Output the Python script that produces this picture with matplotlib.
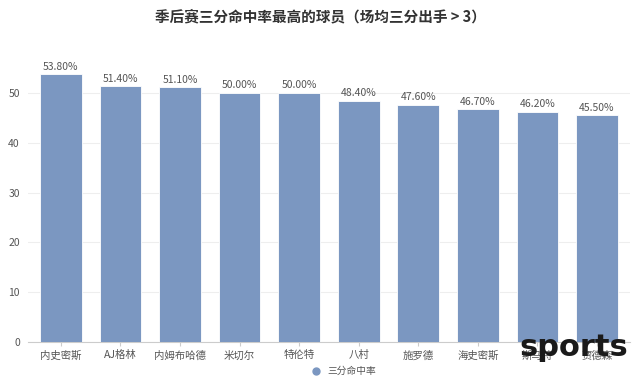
import matplotlib
matplotlib.use("Agg")
import matplotlib.pyplot as plt
from matplotlib.lines import Line2D

plt.rcParams['font.family'] = ['Noto Sans CJK SC', 'DejaVu Sans']

# data
players = ['内史密斯', 'AJ格林', '内姆布哈德', '米切尔', '特伦特', '八村', '施罗德', '海史密斯', '斯马特', '贾德森']
pct = [53.8, 51.4, 51.1, 50.0, 50.0, 48.4, 47.6, 46.7, 46.2, 45.5]
yticks = [0, 10, 20, 30, 40, 50]

bar_color = '#7b97c1'
text_gray = '#555555'

fig = plt.figure(figsize=(6.4, 3.8), dpi=100)
ax = fig.add_axes([0.044, 0.1, 0.94, 0.734])

x = range(len(players))
ax.bar(x, pct, width=0.7, color=bar_color, edgecolor='white', linewidth=0.6, zorder=3)
for xi, v in zip(x, pct):
    ax.text(xi, v + 0.5, '%.2f%%' % v, ha='center', va='bottom', fontsize=7.5, color=text_gray)

ax.set_ylim(0, 56)
ax.set_xlim(-0.55, len(players) - 0.45)
ax.set_yticks(yticks)
ax.set_xticks(list(x))
ax.set_xticklabels(players)
ax.tick_params(axis='y', length=0, labelsize=7.5, colors=text_gray, pad=6)
ax.tick_params(axis='x', length=3, color='#cccccc', labelsize=7.5, colors=text_gray, pad=3)
ax.grid(axis='y', color='#eeeeee', linewidth=0.8, zorder=0)
for s in ['top', 'right', 'left']:
    ax.spines[s].set_visible(False)
ax.spines['bottom'].set_color('#cccccc')

fig.suptitle('季后赛三分命中率最高的球员（场均三分出手 > 3）', x=0.5, y=0.978,
             fontsize=10.5, fontweight='bold', color='#333333')

handle = Line2D([], [], marker='o', linestyle='none', markersize=5,
                markerfacecolor=bar_color, markeredgecolor=bar_color)
ax.legend([handle], ['三分命中率'], loc='upper center', bbox_to_anchor=(0.52, -0.055),
          frameon=False, fontsize=7, handletextpad=0.2, labelcolor=text_gray)

# watermark
fig.text(0.982, 0.085, 'sports', ha='right', va='center', fontsize=22,
         fontweight='bold', color='#1a1a1a', family='DejaVu Sans')

fig.savefig('out.png', dpi=100)
